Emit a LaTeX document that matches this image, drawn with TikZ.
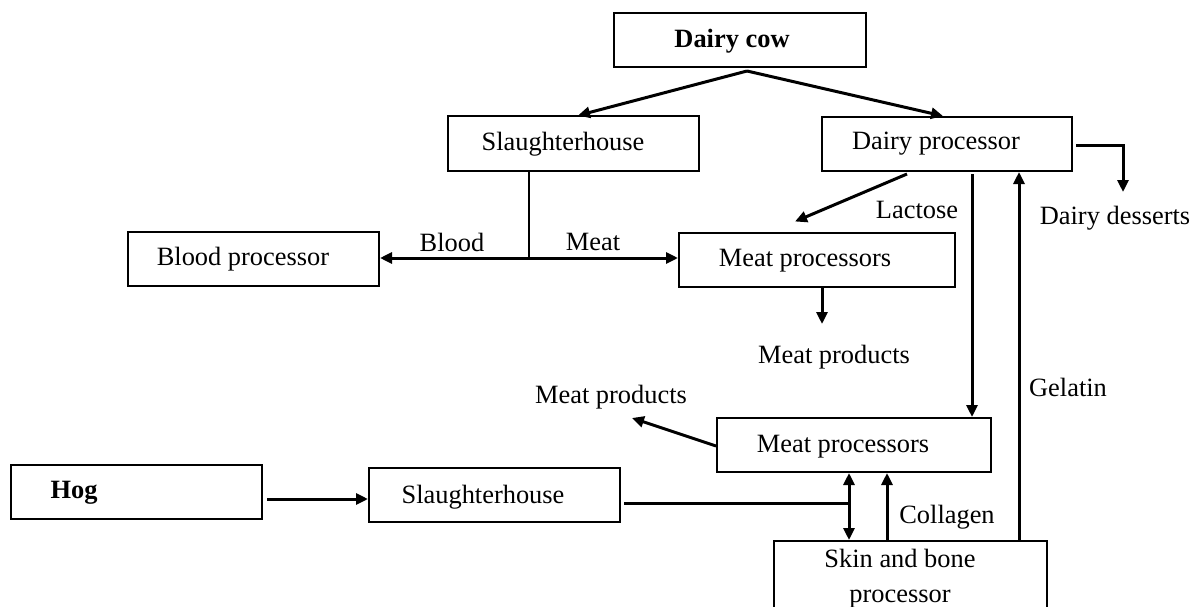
\documentclass[tikz,border=0pt]{standalone}
\usepackage{fontspec}
\setmainfont{Liberation Serif}
\usetikzlibrary{arrows.meta}
\begin{document}
\begin{tikzpicture}[x=1pt,y=-1pt,
  font=\fontsize{26.4}{35}\selectfont,
  box/.style={draw, line width=2pt, inner sep=0pt, minimum height=54pt},
  txt/.style={inner sep=0pt, anchor=center},
  flow/.style={line width=3pt, -{Triangle[length=12pt,width=11pt]}},
  bothflow/.style={line width=3pt, {Triangle[length=12pt,width=11pt]}-{Triangle[length=12pt,width=11pt]}},
  plain/.style={line width=3pt},
  thinline/.style={line width=2pt}]
\useasboundingbox (0,0) rectangle (1201,607);
\clip (0,0) rectangle (1201,607);

% boxes
\node[box, minimum width=252pt] (cow) at (740,40) {};
\node[box, minimum width=251pt] (sh1) at (573.5,143.5) {};
\node[box, minimum width=250pt] (dp) at (947,144) {};
\node[box, minimum width=251pt] (blood) at (253.5,259) {};
\node[box, minimum width=276pt] (mp1) at (817,259.5) {};
\node[box, minimum width=274pt] (mp2) at (854,445) {};
\node[box, minimum width=251pt] (hog) at (136.5,492) {};
\node[box, minimum width=251pt] (sh2) at (494.5,495) {};
\node[box, minimum width=273pt, minimum height=110pt, anchor=north] (skin) at (910.5,540) {};

% box texts
\node[txt] (cowt) at (732,41) {\textbf{Dairy cow}};
\node[txt] (sh1t) at (563,144) {Slaughterhouse};
\node[txt] (dpt) at (936,144) {Dairy processor};
\node[txt] (bloodt) at (243,259) {Blood processor};
\node[txt] (mp1t) at (805,261) {Meat processors};
\node[txt] (mp2t) at (843,447) {Meat processors};
\node[txt] (hogt) at (74,493) {\textbf{Hog}};
\node[txt] (sh2t) at (483,497) {Slaughterhouse};
\node[txt, align=center] (skint) at (900,579) {Skin and bone\\processor};

% free labels
\node[txt] (bloodl) at (452,242) {Blood};
\node[txt] (meatl) at (593,242) {Meat};
\node[txt] (lact) at (917,210) {Lactose};
\node[txt] (dess) at (1115,218) {Dairy desserts};
\node[txt] (prod1) at (834,357) {Meat products};
\node[txt] (prod2) at (611,397) {Meat products};
\node[txt] (gel) at (1068,387) {Gelatin};
\node[txt] (coll) at (947,517) {Collagen};

% arrow end points
\coordinate (dd) at (1123,192);
\coordinate (p1) at (822,324);
\coordinate (p2) at (632,418);
\coordinate (j) at (529,258);
\coordinate (k) at (849,503);
\coordinate (c) at (887,540);

% dairy cow splits
\draw[flow] ([xshift=7pt,yshift=-3pt]cow.south) -- ([xshift=4.5pt]sh1.north);
\draw[flow] ([xshift=7pt,yshift=-3pt]cow.south) -- ([xshift=-4pt]dp.north);

% dairy processor outputs
\draw[flow] ([xshift=3pt,yshift=-1pt]dp.east) -| (dd);
\draw[flow] ([xshift=-40pt,yshift=-2pt]dp.south) -- ([xshift=-22pt,yshift=10pt]mp1.north);
\draw[flow] ([xshift=25pt,yshift=-2pt]dp.south) -- ([xshift=25pt]dp.south |- mp2.north);
\draw[flow] ([xshift=72pt]dp.south |- skin.north) -- ([xshift=72pt]dp.south);

% cattle slaughterhouse: blood and meat
\draw[thinline] ([xshift=-44.5pt]sh1.south) -- (j);
\draw[flow] (j) -- (j -| blood.east);
\draw[flow] (j) -- (j -| mp1.west);
\draw[flow] ([xshift=5pt]mp1.south) -- (p1);

% hog chain
\draw[flow] (mp2.west) ++(0,1) -- (p2);
\draw[flow] ([xshift=4pt,yshift=-7pt]hog.east) coordinate (h1) -- (h1 -| sh2.west);
\draw[plain] ([xshift=3pt,yshift=-8pt]sh2.east) -- (k);
\draw[bothflow] (k |- mp2.south) -- (k |- skin.north);
\draw[flow] (c) -- (c |- mp2.south);
\end{tikzpicture}
\end{document}
